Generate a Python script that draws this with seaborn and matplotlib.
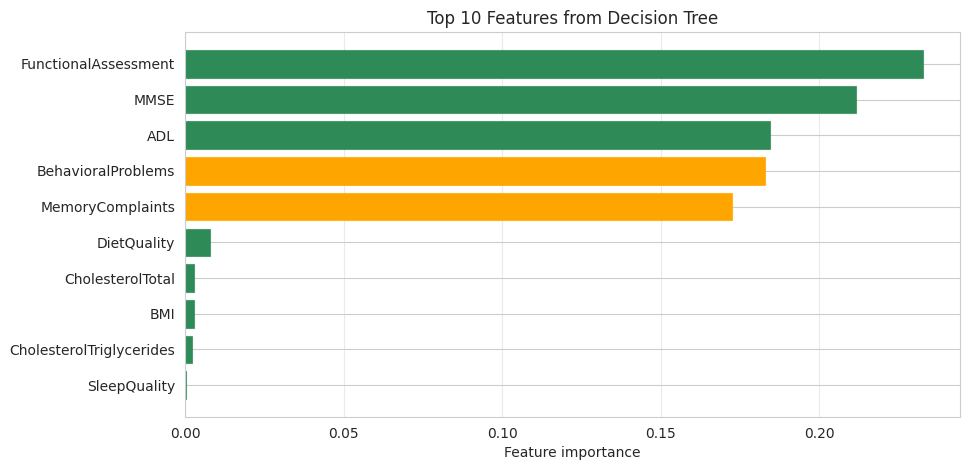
import matplotlib
matplotlib.use("Agg")
import matplotlib.pyplot as plt
import pandas as pd
import seaborn as sns

features = ['FunctionalAssessment', 'MMSE', 'ADL', 'BehavioralProblems',
            'MemoryComplaints', 'DietQuality', 'CholesterolTotal', 'BMI',
            'CholesterolTriglycerides', 'SleepQuality']
importance = [0.2328, 0.2116, 0.1844, 0.1829, 0.1726,
              0.0079, 0.0029, 0.0029, 0.0023, 0.0004]
group = ['green', 'green', 'green', 'orange', 'orange',
         'green', 'green', 'green', 'green', 'green']
colors = {'green': '#2E8B57', 'orange': '#FFA500'}

df = pd.DataFrame({'feature': features, 'importance': importance, 'group': group})

sns.set_style("whitegrid")
fig, ax = plt.subplots(figsize=(9.7, 4.7), dpi=100)
fig.subplots_adjust(left=0.1907, right=0.9897, top=0.9319, bottom=0.1128)

sns.barplot(data=df, x='importance', y='feature', hue='group', palette=colors,
            dodge=False, legend=False, width=0.77, saturation=1, ax=ax)

# light edge like the original barh output
for p in ax.patches:
    fc = p.get_facecolor()
    p.set_edgecolor((fc[0], fc[1], fc[2], 0.7))
    p.set_linewidth(0.8)

ax.set_ylim(9.89, -0.89)
ax.set_xlim(0, 0.2328 * 1.05)
ax.xaxis.grid(True, alpha=0.4)
ax.yaxis.grid(True)
ax.set_axisbelow(True)
ax.set_title('Top 10 Features from Decision Tree', fontsize=12)
ax.set_xlabel('Feature importance', fontsize=10)
ax.set_ylabel('')

fig.savefig('out.png', dpi=100)
